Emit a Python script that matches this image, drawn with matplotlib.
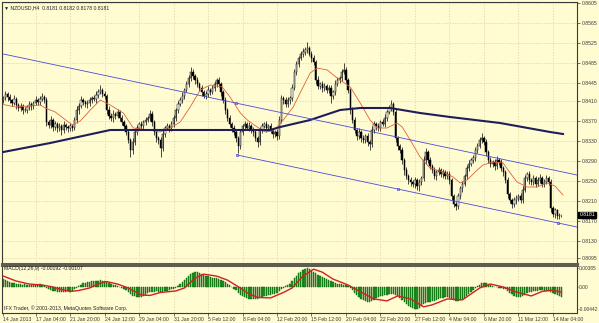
import matplotlib.pyplot as plt
from matplotlib import rcParams
from matplotlib.transforms import blended_transform_factory

# -------- data (H4 bars, index 0 = first visible bar) --------
close = [
    0.8415, 0.8423, 0.8417, 0.8411, 0.8405, 0.8413, 0.8401, 0.8395, 0.8399, 0.8391,
    0.8391, 0.8397, 0.8403, 0.8399, 0.8405, 0.8411, 0.8407, 0.8413, 0.8417, 0.8411,
    0.8367, 0.8361, 0.8371, 0.8357, 0.8363, 0.8355, 0.8359, 0.8351, 0.8361, 0.8357,
    0.8355, 0.8359, 0.8355, 0.8371, 0.8391, 0.8399, 0.8411, 0.8407, 0.8403, 0.8405,
    0.8411, 0.8415, 0.8413, 0.8421, 0.8427, 0.8431, 0.8423, 0.8419, 0.8391, 0.8379,
    0.8375, 0.8383, 0.8379, 0.8387, 0.8375, 0.8367, 0.8359, 0.8347, 0.8331, 0.8311,
    0.8327, 0.8347, 0.8355, 0.8363, 0.8359, 0.8367, 0.8371, 0.8375, 0.8383, 0.8367,
    0.8347, 0.8335, 0.8331, 0.8315, 0.8343, 0.8355, 0.8359, 0.8355, 0.8363, 0.8375,
    0.8391, 0.8403, 0.8411, 0.8419, 0.8431, 0.8443, 0.8455, 0.8467, 0.8459, 0.8451,
    0.8443, 0.8435, 0.8427, 0.8419, 0.8423, 0.8431, 0.8427, 0.8435, 0.8443, 0.8451,
    0.8443, 0.8427, 0.8411, 0.8391, 0.8375, 0.8363, 0.8355, 0.8347, 0.8335, 0.8319,
    0.8347, 0.8359, 0.8363, 0.8355, 0.8359, 0.8351, 0.8347, 0.8335, 0.8327, 0.8351,
    0.8359, 0.8363, 0.8355, 0.8359, 0.8351, 0.8343, 0.8347, 0.8339, 0.8371, 0.8415,
    0.8411, 0.8403, 0.8411, 0.8415, 0.8435, 0.8467, 0.8483, 0.8495, 0.8503, 0.8507,
    0.8511, 0.8515, 0.8503, 0.8495, 0.8487, 0.8451, 0.8439, 0.8443, 0.8435, 0.8439,
    0.8431, 0.8435, 0.8419, 0.8427, 0.8443, 0.8451, 0.8455, 0.8467, 0.8471, 0.8451,
    0.8431, 0.8391, 0.8371, 0.8351, 0.8339, 0.8347, 0.8335, 0.8331, 0.8339, 0.8327,
    0.8323, 0.8351, 0.8363, 0.8359, 0.8355, 0.8367, 0.8363, 0.8375, 0.8387, 0.8395,
    0.8403, 0.8387, 0.8335, 0.8319, 0.8311, 0.8291, 0.8271, 0.8259, 0.8251, 0.8247,
    0.8243, 0.8251, 0.8239, 0.8247, 0.8255, 0.8291, 0.8307, 0.8291, 0.8279, 0.8271,
    0.8259, 0.8267, 0.8271, 0.8263, 0.8267, 0.8259, 0.8263, 0.8251, 0.8219, 0.8203,
    0.8199, 0.8219, 0.8235, 0.8243, 0.8259, 0.8275, 0.8283, 0.8291, 0.8295, 0.8311,
    0.8319, 0.8331, 0.8335, 0.8327, 0.8307, 0.8291, 0.8283, 0.8287, 0.8279, 0.8291,
    0.8287, 0.8275, 0.8267, 0.8251, 0.8223, 0.8211, 0.8203, 0.8211, 0.8215, 0.8219,
    0.8211, 0.8231, 0.8255, 0.8263, 0.8251, 0.8247, 0.8255, 0.8243, 0.8251, 0.8255,
    0.8243, 0.8247, 0.8255, 0.8247, 0.8195, 0.8183, 0.8191, 0.8179, 0.8181, 0.8181,
]
first_open = 0.8412

# wick lengths above / below the candle body, in pips
upper_wick = [
    5, 7, 4, 6, 3, 8, 4, 5, 6, 4,   6, 4, 7, 5, 4, 8, 5, 6, 9, 4,
    6, 5, 8, 4, 6, 5, 7, 4, 9, 5,   4, 6, 5, 7, 8, 6, 9, 5, 4, 6,
    7, 5, 6, 8, 7, 10, 5, 6, 4, 8,  6, 9, 5, 7, 4, 6, 5, 4, 6, 5,
    8, 6, 7, 5, 6, 4, 7, 5, 9, 6,   5, 7, 4, 6, 8, 5, 6, 4, 7, 6,
    5, 7, 6, 8, 5, 6, 7, 10, 6, 5,  6, 4, 7, 5, 6, 8, 5, 7, 6, 5,
    6, 5, 4, 6, 5, 7, 4, 6, 5, 4,   7, 5, 6, 4, 8, 5, 6, 4, 5, 7,
    6, 5, 7, 4, 6, 5, 4, 6, 8, 6,   5, 7, 6, 4, 8, 6, 7, 5, 6, 8,
    6, 12, 5, 7, 6, 4, 8, 5, 6, 7,  5, 7, 6, 5, 8, 6, 5, 7, 14, 6,
    5, 4, 6, 7, 5, 8, 4, 6, 5, 7,   5, 8, 6, 4, 7, 5, 6, 8, 5, 6,
    8, 5, 6, 4, 5, 6, 4, 7, 5, 6,   5, 7, 4, 6, 5, 8, 9, 5, 6, 4,
    6, 5, 7, 4, 6, 5, 7, 6, 4, 5,   5, 6, 4, 7, 5, 6, 8, 5, 6, 7,
    6, 7, 10, 5, 6, 4, 7, 5, 6, 8,  5, 6, 4, 5, 6, 4, 5, 7, 6, 5,
    6, 8, 7, 5, 6, 4, 7, 5, 6, 8,   5, 6, 7, 5, 6, 4, 5, 3, 4, 1,
]
lower_wick = [
    6, 4, 7, 5, 6, 4, 8, 5, 6, 7,   4, 6, 5, 7, 5, 4, 6, 5, 4, 6,
    7, 5, 6, 8, 5, 7, 6, 9, 5, 6,   8, 5, 6, 4, 5, 7, 4, 6, 5, 7,
    5, 6, 4, 7, 5, 4, 6, 5, 8, 6,   5, 7, 6, 4, 6, 5, 7, 6, 5, 14,
    7, 5, 6, 4, 7, 5, 6, 4, 5, 7,   6, 8, 7, 18, 5, 6, 4, 7, 5, 6,
    5, 6, 4, 5, 6, 4, 5, 6, 5, 7,   6, 5, 7, 4, 6, 5, 6, 4, 5, 6,
    5, 7, 6, 8, 6, 5, 7, 6, 8, 14,  6, 5, 7, 4, 6, 5, 7, 6, 10, 5,
    6, 4, 7, 5, 6, 8, 5, 7, 5, 6,   7, 5, 6, 8, 5, 4, 6, 5, 4, 6,
    5, 6, 4, 7, 5, 8, 6, 5, 7, 6,   6, 5, 14, 6, 5, 4, 6, 5, 4, 6,
    5, 7, 6, 5, 8, 6, 7, 5, 6, 7,   12, 5, 6, 7, 5, 6, 4, 5, 6, 4,
    5, 6, 7, 8, 6, 7, 9, 6, 8, 7,   6, 8, 7, 9, 6, 5, 7, 6, 5, 6,
    5, 7, 6, 5, 7, 6, 5, 8, 7, 6,   8, 6, 5, 7, 4, 5, 6, 4, 5, 6,
    5, 4, 6, 5, 7, 6, 5, 6, 7, 5,   6, 5, 7, 6, 8, 6, 8, 6, 7, 6,
    5, 6, 4, 5, 7, 6, 5, 6, 4, 5,   6, 5, 4, 6, 7, 6, 8, 6, 5, 3,
]

# MACD(12,26,9) main line, one value per bar
macd_hist = [
    0.0016, 0.0015, 0.0013, 0.0011,
    0.0009, 0.0008, 0.0007, 0.0006, 0.0006, 0.0005, 0.0006, 0.0005, 0.0004,
    0.0004, 0.0005, 0.0004, 0.0005, 0.0006, 0.0005,
    0.0002, -0.0001, -0.0004,
    -0.0006, -0.0008, -0.0009, -0.0010, -0.0011, -0.0010, -0.0011, -0.0010, -0.0009, -0.0010, -0.0008,
    -0.0004, -0.0001, 0.0002,
    0.0005, 0.0008, 0.0009, 0.0010, 0.0011, 0.0012, 0.0012, 0.0013, 0.0013, 0.0014, 0.0013, 0.0012, 0.0010,
    0.0008, 0.0006, 0.0005, 0.0004, 0.0002, 0.0001, -0.0001,
    -0.0004, -0.0007, -0.0010, -0.0015, -0.0018, -0.0019, -0.0020, -0.0021, -0.0020, -0.0018, -0.0016, -0.0013,
    -0.0011, -0.0010, -0.0010, -0.0009, -0.0010, -0.0011, -0.0010, -0.0009, -0.0008, -0.0007,
    -0.0005, -0.0003, -0.0001, 0.0002, 0.0006,
    0.0010, 0.0014, 0.0018, 0.0023, 0.0027, 0.0029, 0.0030, 0.0030, 0.0029, 0.0027, 0.0025, 0.0023,
    0.0022, 0.0020, 0.0019, 0.0018, 0.0018, 0.0017, 0.0015, 0.0013, 0.0010, 0.0007, 0.0004,
    0.0001, -0.0003, -0.0007, -0.0012, -0.0016,
    -0.0019, -0.0021, -0.0023, -0.0024, -0.0025, -0.0025, -0.0024, -0.0024, -0.0023, -0.0021,
    -0.0019, -0.0018, -0.0017, -0.0016, -0.0015, -0.0014, -0.0013,
    -0.0009, -0.0004, -0.0001, 0.0002, 0.0004, 0.0006,
    0.0012, 0.0018, 0.0023, 0.0028, 0.0031, 0.0034, 0.0036, 0.0038, 0.0037, 0.0035,
    0.0031, 0.0028, 0.0025, 0.0023, 0.0021, 0.0019, 0.0017,
    0.0014, 0.0012, 0.0010, 0.0008, 0.0007, 0.0006, 0.0006, 0.0005, 0.0004, 0.0002,
    -0.0002, -0.0007, -0.0012, -0.0017, -0.0021, -0.0024, -0.0026, -0.0028, -0.0030, -0.0031, -0.0029,
    -0.0026, -0.0023, -0.0021, -0.0019, -0.0018, -0.0017, -0.0016, -0.0015, -0.0014, -0.0015, -0.0016,
    -0.0019, -0.0023,
    -0.0027, -0.0031, -0.0035, -0.0038, -0.0041, -0.0043, -0.0044, -0.0044, -0.0042,
    -0.0039, -0.0035, -0.0033, -0.0031, -0.0030, -0.0029, -0.0028, -0.0026,
    -0.0024, -0.0023, -0.0022, -0.0021, -0.0021, -0.0022, -0.0024,
    -0.0026, -0.0028, -0.0028, -0.0027, -0.0025, -0.0022, -0.0018,
    -0.0014, -0.0010, -0.0006, -0.0002,
    0.0002, 0.0005, 0.0008, 0.0009, 0.0008,
    0.0006, 0.0004, 0.0002, 0.0001, 0.0000, -0.0001, -0.0002, -0.0003, -0.0005,
    -0.0008, -0.0012, -0.0015, -0.0018, -0.0020, -0.0021, -0.0020, -0.0018, -0.0016,
    -0.0013, -0.0011, -0.0010, -0.0009, -0.0008, -0.0008, -0.0007, -0.0007, -0.0008, -0.0008,
    -0.0009, -0.0011,
    -0.0013, -0.0015, -0.0017, -0.0018, -0.00192,
]

# MACD signal line (bar, value)
signal_bar = [0, 6, 12, 18, 22, 28, 31, 35, 40, 45, 48, 53, 58, 64, 68, 73, 80, 84, 89,
              93, 99, 104, 110, 114, 118, 124, 130, 134, 139, 144, 148, 153, 160, 165,
              172, 178, 183, 189, 195, 199, 206, 213, 221, 226, 232, 238, 245, 250, 255, 259]
signal_val = [0.0022, 0.0012, 0.0006, 0.0004, 0.0001, -0.0006, -0.0009, -0.0007, -0.0002,
              0.0008, 0.0011, 0.0006, -0.0002, -0.0016, -0.0017, -0.0011, -0.0008, -0.0002,
              0.0018, 0.0026, 0.0022, 0.0014, -0.0002, -0.0014, -0.0021, -0.0022, -0.0011,
              -0.0002, 0.0022, 0.0036, 0.0030, 0.0016, 0.0004, -0.0008, -0.0024, -0.0028,
              -0.0018, -0.0024, -0.0040, -0.0036, -0.0024, -0.0026, -0.0002, 0.0006, 0.0000,
              -0.0010, -0.0018, -0.0009, -0.0006, -0.00107]

# short moving average (red)
ma_fast_bar = [0, 5.6, 17.2, 19.5, 24.1, 32, 35.7, 40.4, 45, 49.6, 55.7, 60.3, 68.2, 72.8,
               77.5, 82.1, 86.7, 91.4, 96, 101.6, 105.2, 110, 113.2, 117.8, 121.5, 124.8,
               127.1, 129.9, 134.5, 139.1, 142.4, 145.6, 150.3, 154.9, 161, 165.6, 170.2,
               173.5, 178.1, 182.7, 185.1, 188.8, 193.4, 198, 204.1, 208.7, 212, 215.2,
               219.9, 222.6, 227.3, 231.9, 235.2, 238.4, 243, 247.7, 252.3, 256, 259.7]
ma_fast_val = [0.8402, 0.8397, 0.8401, 0.8395, 0.8387, 0.8361, 0.8369, 0.8391, 0.8411,
               0.8401, 0.8385, 0.8355, 0.8351, 0.8347, 0.8355, 0.8367, 0.8397, 0.8431,
               0.8441, 0.8437, 0.8417, 0.8385, 0.8371, 0.8357, 0.8347, 0.8349, 0.8357,
               0.8371, 0.8397, 0.8437, 0.8465, 0.8475, 0.8471, 0.8455, 0.8437, 0.8405,
               0.8371, 0.8355, 0.8355, 0.8365, 0.8357, 0.8331, 0.8297, 0.8275, 0.8267,
               0.8257, 0.8245, 0.8251, 0.8271, 0.8281, 0.8287, 0.8285, 0.8265, 0.8247,
               0.8237, 0.8237, 0.8245, 0.8239, 0.8221]

# long moving average (navy)
ma_slow_bar = [0, 21.8, 49.6, 68.2, 123.8, 128.5, 142.4, 156.3, 165.6, 179.5, 193.4,
               207.3, 230.5, 253.7, 259.7]
ma_slow_val = [0.8307, 0.8325, 0.8351, 0.8351, 0.8351, 0.8357, 0.8371, 0.8391, 0.8395,
               0.8395, 0.8385, 0.8377, 0.8365, 0.8347, 0.8343]

# equidistant channel
chan_upper_bar = [0, 266.2]
chan_upper_val = [0.8503, 0.8261]
chan_lower_bar = [108.5, 266.2]
chan_lower_val = [0.8301, 0.8157]
anchor_bar = [108.1, 108.5, 183.2, 257.4]
anchor_val = [0.8405, 0.8301, 0.8233, 0.8165]

price_ticks = [0.8605, 0.8565, 0.8525, 0.8485, 0.8445, 0.8410, 0.8370, 0.8330,
               0.8290, 0.8250, 0.8210, 0.8170, 0.8130, 0.8095]
macd_ticks = [0.00385, 0.0, -0.00442]
macd_tick_labels = ["0.00385", "0.00", "-0.00442"]

time_labels = ["17 Jan 04:00", "21 Jan 20:00", "24 Jan 12:00", "29 Jan 04:00",
               "31 Jan 20:00", "5 Feb 12:00", "8 Feb 04:00", "12 Feb 20:00",
               "15 Feb 12:00", "20 Feb 04:00", "22 Feb 20:00", "27 Feb 12:00",
               "4 Mar 04:00", "6 Mar 20:00", "11 Mar 12:00", "14 Mar 04:00"]
time_ticks = [15 + 16 * k for k in range(len(time_labels))]

last_price = 0.8181

# -------- style --------
BG = "#fffcd2"
GRID = "#d9d2a3"
AXCOL = "#3a3a3a"
FS = 3.7
rcParams["font.family"] = ["Liberation Sans", "DejaVu Sans"]

W, H = 599, 323
fig = plt.figure(figsize=(W / 100, H / 100), dpi=100)
fig.patch.set_facecolor(BG)

def fy(py):
    return 1 - py / H

ax = fig.add_axes([2 / W, fy(264), (577 - 2) / W, (264 - 2) / H])
ax2 = fig.add_axes([2 / W, fy(313), (577 - 2) / W, (313 - 265) / H])

XLIM = (-0.6, 266.2)
for a in (ax, ax2):
    a.set_facecolor(BG)
    a.set_xlim(*XLIM)
    for t in time_ticks:
        a.axvline(t, color=GRID, lw=0.5, ls=(0, (2, 2)), zorder=0)
    for s in a.spines.values():
        s.set_color(AXCOL)
        s.set_linewidth(0.8)

# -------- candles --------
opens = [first_open] + close[:-1]
n = len(close)
idx = list(range(n))
pip = 0.0001
for i in range(n):
    o, c = opens[i], close[i]
    top, bot = max(o, c), min(o, c)
    ax.vlines(i, bot - lower_wick[i] * pip, top + upper_wick[i] * pip,
              color="black", lw=0.5, zorder=3)
    h = max(top - bot, 0.00004)
    ax.bar(i, h, bottom=bot, width=0.6,
           color="white" if c >= o else "black",
           edgecolor="black", linewidth=0.35, zorder=4)

ax.plot(ma_fast_bar, ma_fast_val, color="#e0603c", lw=0.6, zorder=5)
ax.plot(ma_slow_bar, ma_slow_val, color="#1e1e5a", lw=1.5, zorder=5)
ax.plot(chan_upper_bar, chan_upper_val, color="#4b4bd6", lw=0.6, zorder=6)
ax.plot(chan_lower_bar, chan_lower_val, color="#4b4bd6", lw=0.6, zorder=6)
ax.scatter(anchor_bar, anchor_val, marker="s", s=3, facecolor="none",
           edgecolor="#4b4bd6", linewidths=0.5, zorder=7)

ax.set_ylim(0.8083, 0.8607)
for p in price_ticks:
    ax.axhline(p, color=GRID, lw=0.5, ls=(0, (2, 2)), zorder=0)
ax.yaxis.tick_right()
ax.set_yticks(price_ticks)
ax.set_yticklabels([f"{p:.4f}" for p in price_ticks])
ax.tick_params(axis="y", length=2, width=0.5, colors=AXCOL, labelsize=FS, pad=1.5)
ax.set_xticks([])
ax.spines["bottom"].set_linewidth(2.2)
ax.spines["bottom"].set_color("#5e5e50")

ax.text(0.004, 0.988, "\u25bc NZDUSD,H4  0.8181 0.8182 0.8178 0.8181",
        transform=ax.transAxes, fontsize=FS, va="top", ha="left", color="#222222")

tr = blended_transform_factory(ax.transAxes, ax.transData)
ax.text(1.004, last_price, f"{last_price:.4f}", transform=tr, fontsize=FS,
        color="white", va="center", ha="left",
        bbox=dict(facecolor="black", edgecolor="black", pad=0.6))

# -------- MACD --------
ax2.bar(idx, macd_hist, width=0.6, color="#1f9a1f", edgecolor="#0c520c",
        linewidth=0.3, zorder=3)
ax2.plot(signal_bar, signal_val, color="#d02020", lw=1.0, zorder=4)
ax2.set_ylim(-0.00524, 0.00444)
ax2.yaxis.tick_right()
ax2.set_yticks(macd_ticks)
ax2.set_yticklabels(macd_tick_labels)
ax2.tick_params(axis="y", length=1, width=0.5, colors=AXCOL, labelsize=3.5, pad=0.3)
ax2.spines["top"].set_linewidth(2.2)
ax2.spines["top"].set_color("#5e5e50")

ax2.set_xticks([0] + time_ticks)
ax2.set_xticklabels(["14 Jan 2013"] + time_labels, ha="left")
ax2.tick_params(axis="x", length=2, width=0.5, colors=AXCOL, labelsize=FS, pad=1.0)

ax2.text(0.003, 0.93, "MACD(12,26,9) -0.00192 -0.00107", transform=ax2.transAxes,
         fontsize=FS, va="center", ha="left", color="#222222")
ax2.text(0.003, 0.10, "IFX Trader, \u00a9 2001-2013, MetaQuotes Software Corp.",
         transform=ax2.transAxes, fontsize=FS, va="center", ha="left", color="#222222")

fig.savefig("out.png", dpi=100, facecolor=BG)
